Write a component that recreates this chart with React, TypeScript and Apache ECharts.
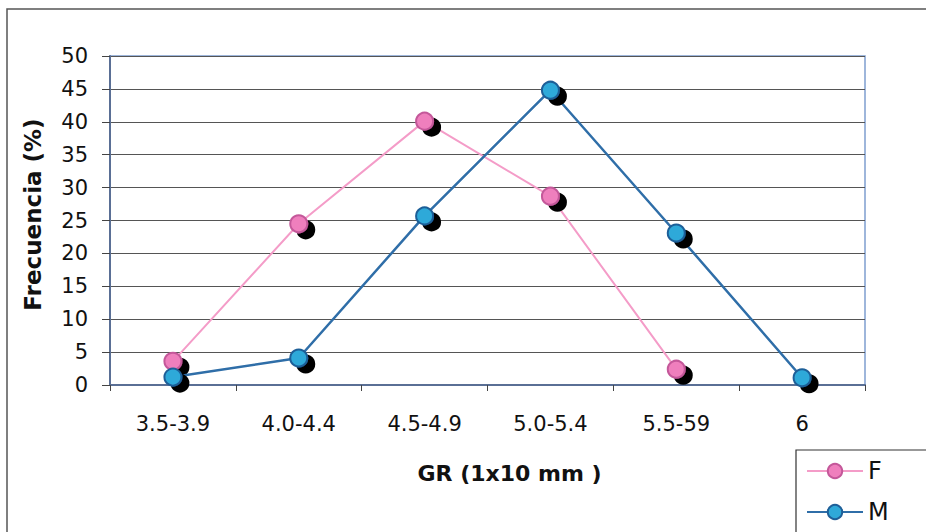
import React, { useEffect, useRef } from "react";
import * as echarts from "echarts";

const categories = ["3.5-3.9", "4.0-4.4", "4.5-4.9", "5.0-5.4", "5.5-59", "6"];
const seriesF = [3.6, 24.5, 40.1, 28.7, 2.4, null];
const seriesM = [1.2, 4.1, 25.7, 44.8, 23.1, 1.1];
const yTicks = [0, 50, 5];

const FONT = "DejaVu Sans, Arial, sans-serif";

export default function App() {
  const ref = useRef<HTMLDivElement>(null);
  useEffect(() => {
    if (!ref.current) return;
    const chart = echarts.init(ref.current, null, { renderer: "svg" });
    const marker = (fill: string, stroke: string) => ({
      color: fill,
      borderColor: stroke,
      borderWidth: 2,
      shadowColor: "rgba(0,0,0,1)",
      shadowBlur: 1,
      shadowOffsetX: 7,
      shadowOffsetY: 6,
    });
    chart.setOption({
      animation: false,
      backgroundColor: "#ffffff",
      textStyle: { fontFamily: FONT },
      grid: { left: 110, right: 61, top: 56, bottom: 147, show: true, borderColor: "#7f9fd0", borderWidth: 1.5 },
      graphic: [
        {
          type: "polyline",
          shape: { points: [[7, 532], [7, 9], [926, 9]] },
          style: { stroke: "#555", lineWidth: 1.5, fill: "none" },
          silent: true,
        },
        {
          // legend frame, running past the bottom edge
          type: "rect",
          shape: { x: 796, y: 450, width: 140, height: 100 },
          style: { stroke: "#333", lineWidth: 1.2, fill: "#fff" },
          silent: true,
          z: -1,
        },
      ],
      legend: {
        orient: "vertical",
        left: 806,
        top: 459,
        data: ["F", "M"],
        itemWidth: 56,
        itemHeight: 18,
        itemGap: 17,
        padding: 0,
        textStyle: { fontSize: 24, color: "#111", fontFamily: FONT },
      },
      xAxis: {
        type: "category",
        data: categories,
        boundaryGap: true,
        name: "GR (1x10 mm )",
        nameLocation: "middle",
        nameGap: 77,
        nameTextStyle: { fontSize: 22, fontWeight: "bold", color: "#111", fontFamily: FONT, padding: [0, 0, 0, 44] },
        axisLine: { lineStyle: { color: "#5a6f95", width: 2 } },
        axisTick: { show: true, alignWithLabel: false, length: 6, lineStyle: { color: "#444" } },
        axisLabel: { fontSize: 21, color: "#111", margin: 28, fontFamily: FONT },
      },
      yAxis: {
        type: "value",
        min: yTicks[0],
        max: yTicks[1],
        interval: yTicks[2],
        name: "Frecuencia (%)",
        nameLocation: "middle",
        nameRotate: 90,
        nameGap: 66,
        nameTextStyle: { fontSize: 23, fontWeight: "bold", color: "#111", fontFamily: FONT, padding: [0, 0, 0, 12] },
        axisLine: { show: true, lineStyle: { color: "#5a6f95", width: 2 } },
        axisTick: { show: true, length: 8, lineStyle: { color: "#444" } },
        axisLabel: { fontSize: 21, color: "#111", margin: 22, fontFamily: FONT },
        splitLine: { lineStyle: { color: "#555", width: 1.2 } },
      },
      series: [
        {
          name: "F",
          type: "line",
          data: seriesF,
          symbol: "circle",
          symbolSize: 17,
          lineStyle: { color: "#f49cc8", width: 2 },
          itemStyle: marker("#ef7fbd", "#c4589a"),
          z: 3,
        },
        {
          name: "M",
          type: "line",
          data: seriesM,
          symbol: "circle",
          symbolSize: 17,
          lineStyle: { color: "#2f6ea8", width: 2.5 },
          itemStyle: marker("#2fa9d9", "#1f5f98"),
          z: 4,
        },
      ],
    });
    return () => chart.dispose();
  }, []);
  return <div ref={ref} style={{ width: 926, height: 532, position: "absolute", left: 0, top: 0 }} />;
}
